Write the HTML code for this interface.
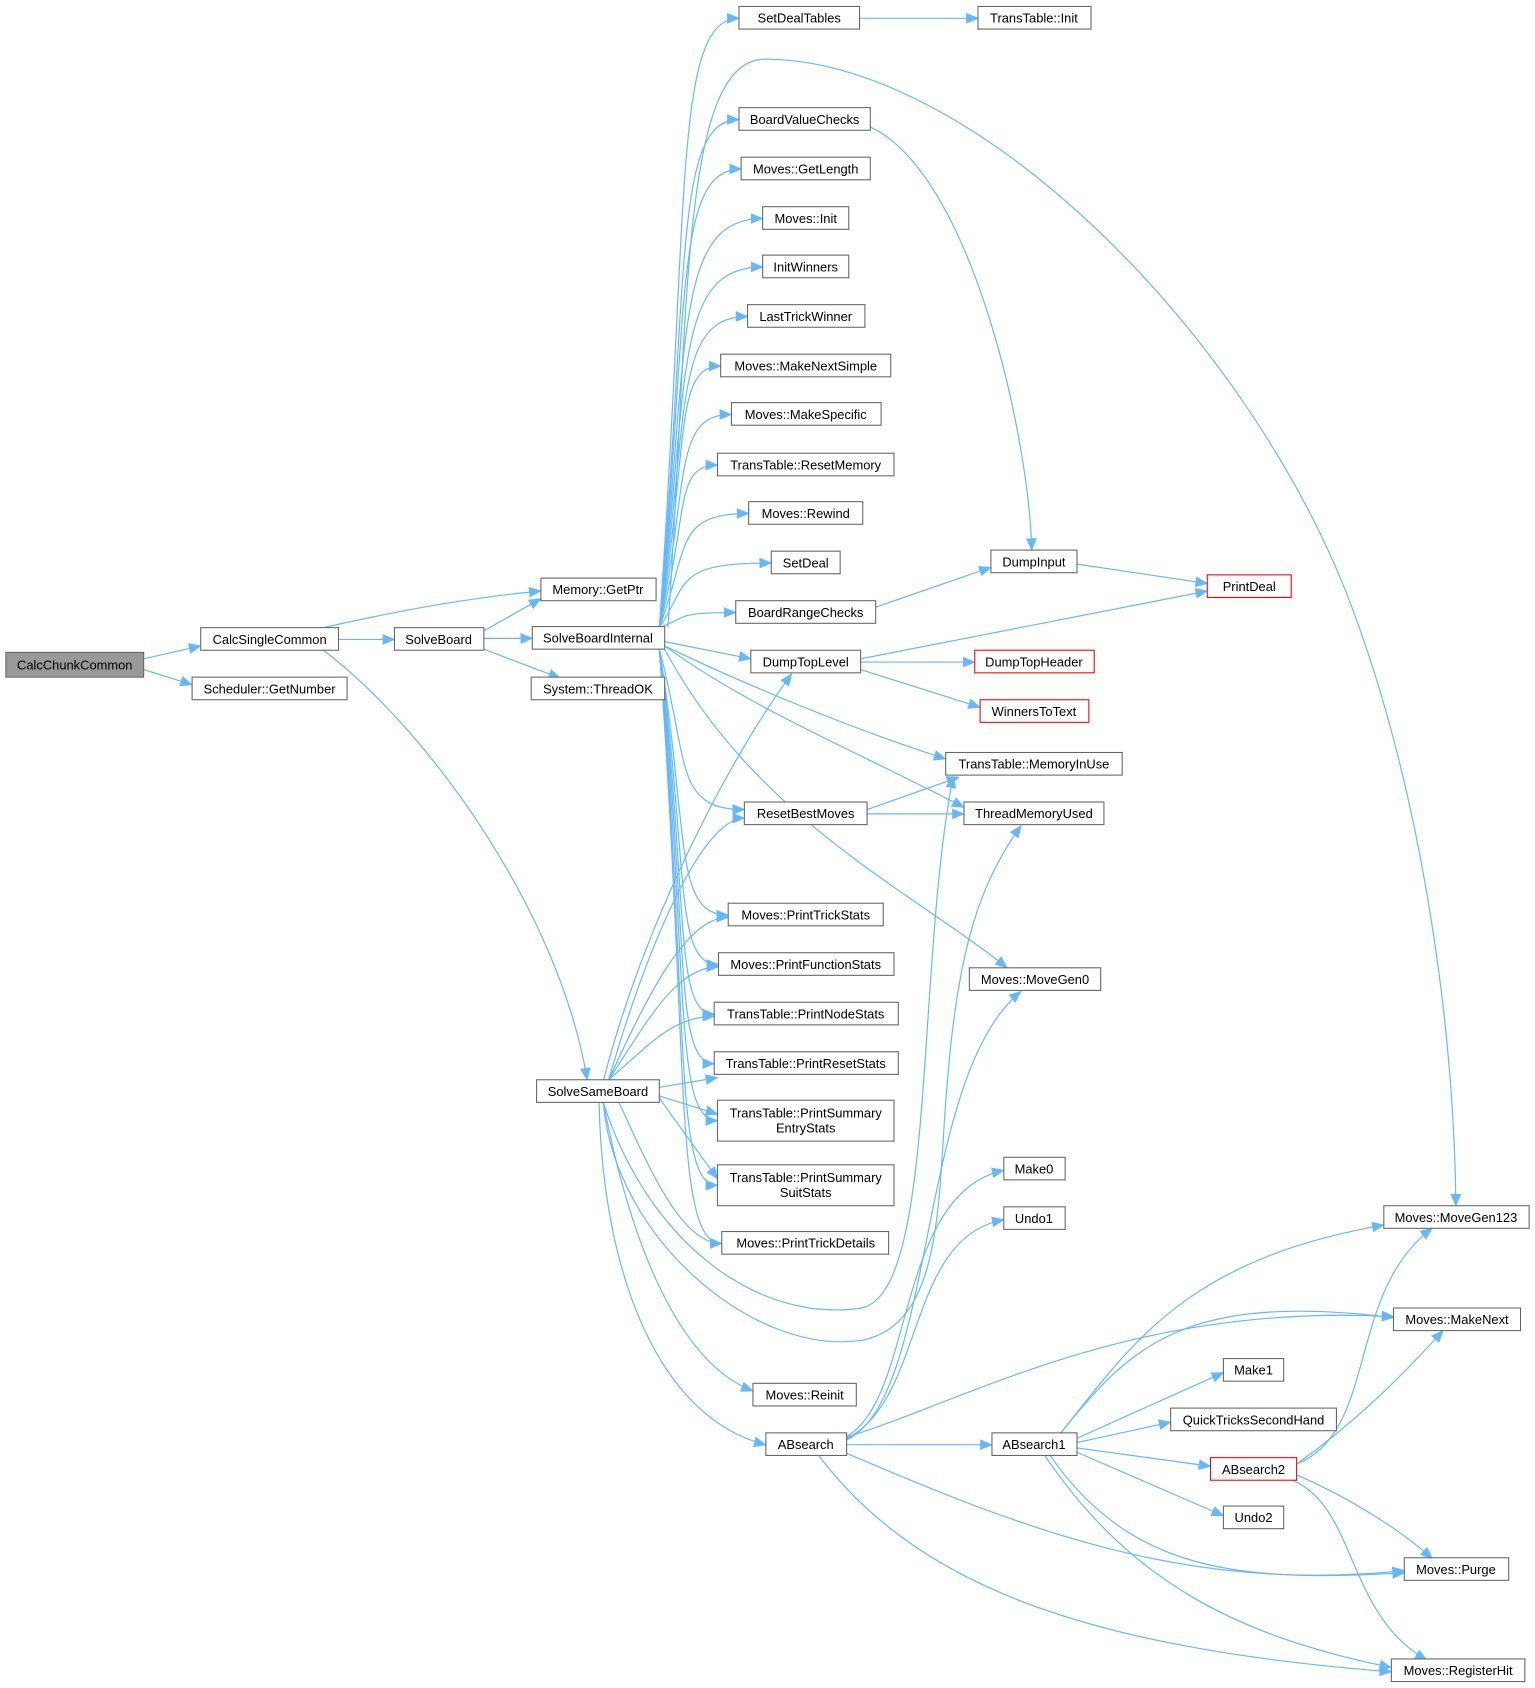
<!DOCTYPE html>
<html><head><meta charset="utf-8"><style>
html,body{margin:0;padding:0;background:#fff}
svg{display:block}
text{font-family:"Liberation Sans",Arial,sans-serif;font-size:12px;fill:#000}
rect{fill:#fff;stroke:#666;stroke-width:1}
.e{fill:none;stroke:#63b8ff;stroke-width:1.1}
</style></head><body>
<svg id="g" width="1535" height="1688" viewBox="0 0 1425 1568" xmlns="http://www.w3.org/2000/svg">
<defs><marker id="a" markerWidth="12" markerHeight="10" refX="11" refY="5" orient="auto" markerUnits="userSpaceOnUse"><path d="M0,0 L12,5 L0,10 z" fill="#63b8ff"/></marker></defs>
<g id="edges"></g>
<g id="nodes">
<rect x="5" y="606" width="128" height="23" style="fill:#999"/><text x="69" y="622" text-anchor="middle">CalcChunkCommon</text>
<rect x="186" y="583" width="128" height="21"/><text x="250" y="598" text-anchor="middle">CalcSingleCommon</text>
<rect x="178" y="629" width="144" height="21"/><text x="250" y="644" text-anchor="middle">Scheduler::GetNumber</text>
<rect x="502" y="537" width="107" height="21"/><text x="555" y="552" text-anchor="middle">Memory::GetPtr</text>
<rect x="366" y="583" width="83" height="21"/><text x="407" y="598" text-anchor="middle">SolveBoard</text>
<rect x="494" y="582" width="123" height="21"/><text x="555" y="597" text-anchor="middle">SolveBoardInternal</text>
<rect x="493" y="629" width="124" height="21"/><text x="555" y="644" text-anchor="middle">System::ThreadOK</text>
<rect x="498" y="1003" width="114" height="21"/><text x="555" y="1018" text-anchor="middle">SolveSameBoard</text>
<rect x="686" y="6" width="112" height="21"/><text x="742" y="21" text-anchor="middle">SetDealTables</text>
<rect x="908" y="6" width="105" height="21"/><text x="960" y="21" text-anchor="middle">TransTable::Init</text>
<rect x="686" y="100" width="122" height="21"/><text x="747" y="115" text-anchor="middle">BoardValueChecks</text>
<rect x="688" y="146" width="120" height="21"/><text x="748" y="161" text-anchor="middle">Moves::GetLength</text>
<rect x="708" y="192" width="80" height="21"/><text x="748" y="207" text-anchor="middle">Moves::Init</text>
<rect x="708" y="237" width="80" height="21"/><text x="748" y="252" text-anchor="middle">InitWinners</text>
<rect x="694" y="283" width="109" height="21"/><text x="748" y="298" text-anchor="middle">LastTrickWinner</text>
<rect x="669" y="329" width="158" height="21"/><text x="748" y="344" text-anchor="middle">Moves::MakeNextSimple</text>
<rect x="679" y="374" width="139" height="21"/><text x="748" y="389" text-anchor="middle">Moves::MakeSpecific</text>
<rect x="666" y="421" width="164" height="21"/><text x="748" y="436" text-anchor="middle">TransTable::ResetMemory</text>
<rect x="695" y="466" width="106" height="21"/><text x="748" y="481" text-anchor="middle">Moves::Rewind</text>
<rect x="716" y="512" width="64" height="21"/><text x="748" y="527" text-anchor="middle">SetDeal</text>
<rect x="683" y="558" width="130" height="21"/><text x="748" y="573" text-anchor="middle">BoardRangeChecks</text>
<rect x="697" y="604" width="102" height="21"/><text x="748" y="619" text-anchor="middle">DumpTopLevel</text>
<rect x="920" y="511" width="80" height="21"/><text x="960" y="526" text-anchor="middle">DumpInput</text>
<rect x="1121" y="534" width="78" height="21" style="stroke:#f00"/><text x="1160" y="549" text-anchor="middle">PrintDeal</text>
<rect x="905" y="604" width="111" height="21" style="stroke:#f00"/><text x="960" y="619" text-anchor="middle">DumpTopHeader</text>
<rect x="910" y="650" width="101" height="21" style="stroke:#f00"/><text x="960" y="665" text-anchor="middle">WinnersToText</text>
<rect x="878" y="699" width="164" height="21"/><text x="960" y="714" text-anchor="middle">TransTable::MemoryInUse</text>
<rect x="895" y="745" width="130" height="21"/><text x="960" y="760" text-anchor="middle">ThreadMemoryUsed</text>
<rect x="691" y="745" width="114" height="21"/><text x="748" y="760" text-anchor="middle">ResetBestMoves</text>
<rect x="676" y="839" width="144" height="21"/><text x="748" y="854" text-anchor="middle">Moves::PrintTrickStats</text>
<rect x="667" y="885" width="163" height="21"/><text x="748" y="900" text-anchor="middle">Moves::PrintFunctionStats</text>
<rect x="663" y="931" width="171" height="21"/><text x="748" y="946" text-anchor="middle">TransTable::PrintNodeStats</text>
<rect x="663" y="977" width="171" height="21"/><text x="748" y="992" text-anchor="middle">TransTable::PrintResetStats</text>
<rect x="666" y="1022" width="164" height="38"/><text x="748" y="1038" text-anchor="middle">TransTable::PrintSummary</text><text x="748" y="1052" text-anchor="middle">EntryStats</text>
<rect x="666" y="1082" width="164" height="38"/><text x="748" y="1098" text-anchor="middle">TransTable::PrintSummary</text><text x="748" y="1112" text-anchor="middle">SuitStats</text>
<rect x="670" y="1144" width="155" height="21"/><text x="748" y="1159" text-anchor="middle">Moves::PrintTrickDetails</text>
<rect x="900" y="899" width="122" height="21"/><text x="961" y="914" text-anchor="middle">Moves::MoveGen0</text>
<rect x="932" y="1075" width="57" height="21"/><text x="960" y="1090" text-anchor="middle">Make0</text>
<rect x="932" y="1121" width="57" height="21"/><text x="960" y="1136" text-anchor="middle">Undo1</text>
<rect x="699" y="1285" width="96" height="21"/><text x="747" y="1300" text-anchor="middle">Moves::Reinit</text>
<rect x="711" y="1331" width="75" height="21"/><text x="748" y="1346" text-anchor="middle">ABsearch</text>
<rect x="921" y="1331" width="79" height="21"/><text x="960" y="1346" text-anchor="middle">ABsearch1</text>
<rect x="1136" y="1262" width="56" height="21"/><text x="1164" y="1277" text-anchor="middle">Make1</text>
<rect x="1087" y="1308" width="154" height="21"/><text x="1164" y="1323" text-anchor="middle">QuickTricksSecondHand</text>
<rect x="1124" y="1354" width="80" height="21" style="stroke:#f00"/><text x="1164" y="1369" text-anchor="middle">ABsearch2</text>
<rect x="1136" y="1399" width="56" height="21"/><text x="1164" y="1414" text-anchor="middle">Undo2</text>
<rect x="1285" y="1120" width="135" height="21"/><text x="1352" y="1135" text-anchor="middle">Moves::MoveGen123</text>
<rect x="1294" y="1215" width="118" height="21"/><text x="1353" y="1230" text-anchor="middle">Moves::MakeNext</text>
<rect x="1304" y="1447" width="97" height="21"/><text x="1352" y="1462" text-anchor="middle">Moves::Purge</text>
<rect x="1292" y="1541" width="124" height="21"/><text x="1354" y="1556" text-anchor="middle">Moves::RegisterHit</text>
</g>
</svg>
<script>
var E=[
"M133,612 L186,600","M133,622 L178,636",
"M300,583 C380,565 440,555 502,549","M314,594 L366,594","M300,604 C400,680 520,850 545,1003",
"M449,586 L502,556","M449,593 L494,593","M449,603 L520,630",
"M620,583 C640,300 630,55 710,55 C900,55 1150,300 1250,550 C1320,730 1350,950 1352,1120",
"M798,17 L908,17","M808,118 C900,160 955,400 958,511","M813,564 L920,527",
"M1000,524 L1121,542","M799,612 L1121,549","M799,615 L905,615","M799,622 L910,657",
"M805,752 L890,722","M805,756 L895,756",
"M560,1004 C600,850 680,700 735,626",
"M560,1024 C600,1150 700,1230 800,1215 C870,1200 850,900 885,721",
"M560,1024 C570,1150 700,1260 800,1245 C880,1230 870,1100 880,1000 C890,880 910,820 948,767",
"M560,1024 C590,1180 640,1270 699,1292","M556,1024 C560,1200 620,1320 711,1342",
"M785,1335 C850,1300 830,1110 932,1087","M785,1337 C860,1300 840,1150 932,1133","M785,1338 C870,1300 850,1000 948,921",
"M786,1342 L921,1342","M786,1335 C900,1300 1050,1210 1294,1223","M786,1350 C950,1420 1100,1480 1304,1459",
"M760,1352 C850,1470 1000,1530 1292,1553",
"M985,1331 C1050,1250 1100,1170 1285,1138","M985,1331 C1050,1250 1100,1200 1294,1224",
"M1000,1336 L1136,1275","M1000,1340 L1087,1321","M1000,1345 L1124,1362","M1000,1349 L1136,1408",
"M975,1352 C1050,1460 1150,1470 1304,1461","M970,1352 C1050,1470 1150,1520 1292,1549",
"M1204,1360 C1280,1330 1250,1200 1330,1141","M1204,1360 C1260,1320 1300,1280 1340,1236",
"M1204,1370 C1250,1390 1300,1420 1330,1448","M1200,1375 C1260,1400 1250,1500 1325,1542"
];
var sbi=[[686,17],[686,111],[688,157],[708,203],[708,248],[694,294],[669,340],[679,385],[666,432],[695,477],[716,523],[683,569],[697,612],[691,752],[676,850],[667,896],[663,942],[663,988],[666,1041],[666,1101],[670,1155]];
sbi.forEach(function(t){var tx=t[0],ty=t[1];
 if(ty<590){E.push("M612,583 C640,"+(583-0.7*(583-ty))+" 625,"+ty+" "+tx+","+ty);}
 else if(ty<630){E.push("M617,596 L"+tx+","+ty);}
 else{E.push("M612,603 C640,"+(603+0.7*(ty-603))+" 625,"+ty+" "+tx+","+ty);}
});
E.push("M617,600 C700,640 800,680 878,705");
E.push("M617,600 C700,660 800,700 895,750");
E.push("M617,603 C700,760 850,830 935,899");
var ssb=[[691,760],[676,852],[667,898],[663,944],[670,1155]];
ssb.forEach(function(t){var tx=t[0],ty=t[1];
 E.push("M565,1003 C600,"+(1003-0.5*(1003-ty))+" "+(tx-40)+","+ty+" "+tx+","+ty);});
E.push("M612,1010 L666,1001");E.push("M612,1018 L666,1035");E.push("M612,1020 L666,1095");
var g=document.getElementById("edges");
E.forEach(function(d){var p=document.createElementNS("http://www.w3.org/2000/svg","path");p.setAttribute("d",d);p.setAttribute("class","e");p.setAttribute("marker-end","url(#a)");g.appendChild(p);});
</script>
</body></html>
